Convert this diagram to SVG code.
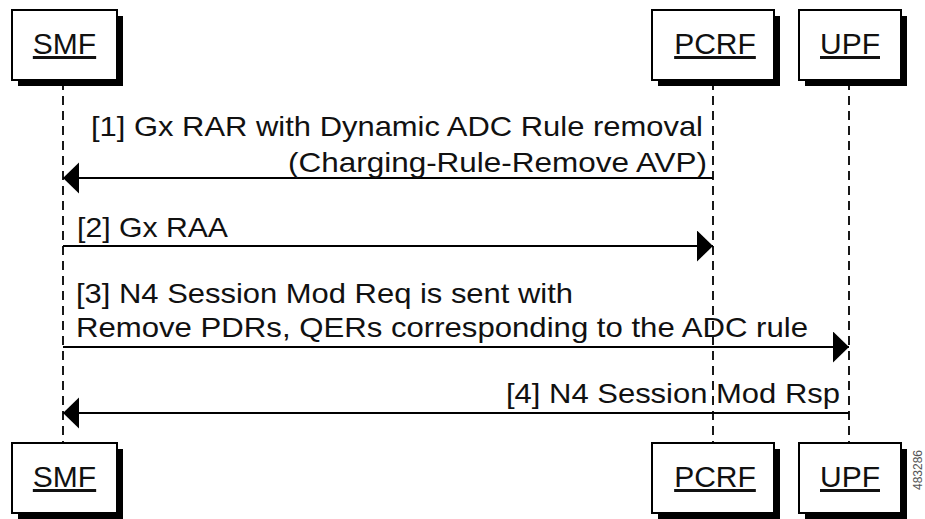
<svg xmlns="http://www.w3.org/2000/svg" width="925" height="519" viewBox="0 0 925 519">
  <style>
    .shadow { fill: #000; }
    .box { fill: #fff; stroke: #000; stroke-width: 2; }
    .label { font-family: "Liberation Sans", Arial, sans-serif; font-size: 30px; fill: #111; text-anchor: middle; text-decoration: underline; }
    .life { stroke: #000; stroke-width: 1.8; stroke-dasharray: 9 6; fill: none; }
    .msg { stroke: #000; stroke-width: 2; fill: none; marker-end: url(#arrow); }
    .txt { font-family: "Liberation Sans", Arial, sans-serif; font-size: 28px; fill: #111; }
    .fig { font-family: "Liberation Sans", Arial, sans-serif; font-size: 12px; fill: #555; }
  </style>
  <defs>
    <marker id="arrow" markerUnits="userSpaceOnUse" markerWidth="17" markerHeight="32" refX="16" refY="15.5" orient="auto">
      <path d="M0,0 L16,15.5 L0,31 Z" fill="#000"/>
    </marker>
  </defs>
  <rect width="925" height="519" fill="#fff"/>

  <g id="lifelines">
    <line class="life" x1="63" y1="81" x2="63" y2="443"/>
    <line class="life" x1="713" y1="81" x2="713" y2="443"/>
    <line class="life" x1="849" y1="81" x2="849" y2="443"/>
  </g>

  <g id="SMF-top">
    <rect class="shadow" x="18" y="16" width="105" height="70"/>
    <rect class="box" x="12" y="10" width="105" height="70"/>
    <text class="label" x="64.5" y="54">SMF</text>
  </g>
  <g id="PCRF-top">
    <rect class="shadow" x="658" y="16" width="122" height="70"/>
    <rect class="box" x="652" y="10" width="122" height="70"/>
    <text class="label" x="715" y="54">PCRF</text>
  </g>
  <g id="UPF-top">
    <rect class="shadow" x="805" y="16" width="102" height="70"/>
    <rect class="box" x="799" y="10" width="102" height="70"/>
    <text class="label" x="850" y="54">UPF</text>
  </g>

  <g id="SMF-bottom">
    <rect class="shadow" x="18" y="449" width="105" height="70"/>
    <rect class="box" x="12" y="443" width="105" height="70"/>
    <text class="label" x="64.5" y="487">SMF</text>
  </g>
  <g id="PCRF-bottom">
    <rect class="shadow" x="658" y="449" width="122" height="70"/>
    <rect class="box" x="652" y="443" width="122" height="70"/>
    <text class="label" x="715" y="487">PCRF</text>
  </g>
  <g id="UPF-bottom">
    <rect class="shadow" x="805" y="449" width="102" height="70"/>
    <rect class="box" x="799" y="443" width="102" height="70"/>
    <text class="label" x="850" y="487">UPF</text>
  </g>

  <g id="connectors">
    <line class="msg" x1="713" y1="178" x2="63" y2="178"/>
    <line class="msg" x1="63" y1="246" x2="713" y2="246"/>
    <line class="msg" x1="63" y1="347" x2="849" y2="347"/>
    <line class="msg" x1="849" y1="413" x2="63" y2="413"/>
  </g>

  <g id="messages">
    <text class="txt" x="91" y="136" textLength="612" lengthAdjust="spacingAndGlyphs">[1] Gx RAR with Dynamic ADC Rule removal</text>
    <text class="txt" x="288" y="172" textLength="419" lengthAdjust="spacingAndGlyphs">(Charging-Rule-Remove AVP)</text>
    <text class="txt" x="77" y="237" textLength="151" lengthAdjust="spacingAndGlyphs">[2] Gx RAA</text>
    <text class="txt" x="76" y="303" textLength="497" lengthAdjust="spacingAndGlyphs">[3] N4 Session Mod Req is sent with</text>
    <text class="txt" x="76" y="337" textLength="732" lengthAdjust="spacingAndGlyphs">Remove PDRs, QERs corresponding to the ADC rule</text>
    <text class="txt" x="506" y="403" textLength="334" lengthAdjust="spacingAndGlyphs">[4] N4 Session Mod Rsp</text>
  </g>

  <text class="fig" transform="translate(922,450) rotate(-90)" text-anchor="end">483286</text>
</svg>
